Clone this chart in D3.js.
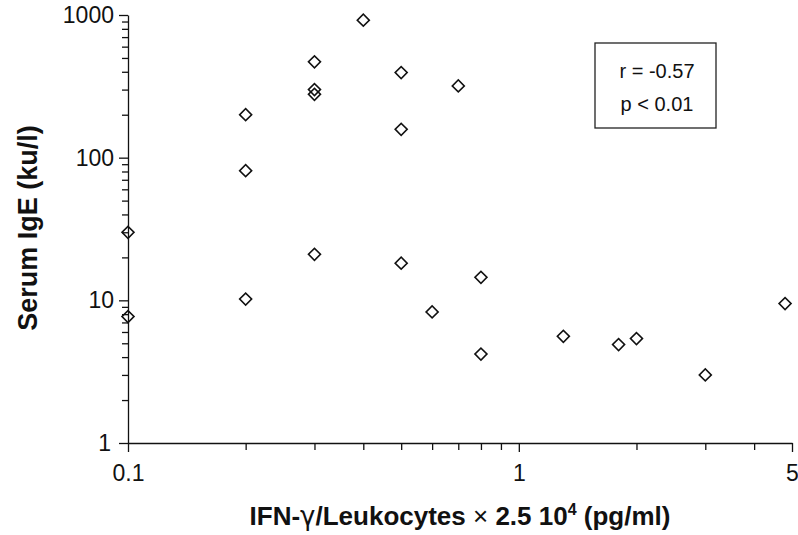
<!DOCTYPE html>
<html>
<head>
<meta charset="utf-8">
<script src="https://cdn.jsdelivr.net/npm/d3@7"></script>
<style>
  body { margin: 0; background: #fff; }
  svg { display: block; font-family: "Liberation Sans", Arial, sans-serif; }
</style>
</head>
<body>
<div id="chart"><svg></svg></div>
<script>
// IFN-gamma / leukocytes (x) vs serum IgE (y)
var ifnValues = [0.1, 0.1, 0.2, 0.2, 0.2, 0.3, 0.3, 0.3, 0.3, 0.4, 0.5, 0.5, 0.5,
                 0.6, 0.7, 0.8, 0.8, 1.3, 1.8, 2.0, 3.0, 4.8];
var igeValues = [30, 7.7, 10.2, 200, 81, 470, 300, 278, 21, 920, 395, 158, 18.2,
                 8.3, 318, 14.5, 4.2, 5.6, 4.9, 5.4, 3.0, 9.5];

var xMajorTicks = [0.1, 1, 5];
var xMinorTicks = [0.2, 0.3, 0.4, 0.5, 0.6, 0.7, 0.8, 0.9, 2, 3, 4];
var yMajorTicks = [1, 10, 100, 1000];
var yMinorTicks = [2, 3, 4, 5, 6, 7, 8, 9, 20, 30, 40, 50, 60, 70, 80, 90,
                   200, 300, 400, 500, 600, 700, 800, 900];

var statLines = ["r = -0.57", "p < 0.01"];

var width = 798, height = 535;
var svg = d3.select('#chart').select('svg')
    .attr('width', width)
    .attr('height', height);

var x = d3.scaleLog().domain([0.1, 5]).range([128, 792]);
var y = d3.scaleLog().domain([1, 1000]).range([443, 15]);

// y axis
var gy = svg.append('g').attr('transform', 'translate(128,0)');
gy.call(d3.axisLeft(y).tickValues(yMajorTicks).tickSize(9).tickSizeOuter(0)
    .tickPadding(5).tickFormat(d3.format('d')));
gy.append('g').call(d3.axisLeft(y).tickValues(yMinorTicks).tickSize(6)
    .tickFormat('')).select('.domain').remove();

// x axis
var gx = svg.append('g').attr('transform', 'translate(0,443)');
gx.call(d3.axisBottom(x).tickValues(xMajorTicks).tickSize(9).tickSizeOuter(0)
    .tickPadding(13).tickFormat(function (d) { return d === 0.1 ? '0.1' : d3.format('d')(d); }));
gx.append('g').call(d3.axisBottom(x).tickValues(xMinorTicks).tickSize(7)
    .tickFormat('')).select('.domain').remove();

svg.selectAll('.domain, .tick line').attr('stroke', '#111').attr('stroke-width', 1.3);
svg.selectAll('.tick text').attr('font-size', 23).attr('fill', '#111')
    .attr('font-family', '"Liberation Sans", Arial, sans-serif');
gy.selectAll('.tick text').filter(function (d) { return d === 1; }).attr('dx', -3);

// points
svg.append('g').selectAll('path').data(ifnValues).enter()
    .append('path')
    .attr('d', d3.symbol().type(d3.symbolSquare).size(72))
    .attr('transform', function (d, i) {
        return 'translate(' + x(d) + ',' + y(igeValues[i]) + ') rotate(45)';
    })
    .attr('fill', 'none')
    .attr('stroke', '#111')
    .attr('stroke-width', 1.6);

// stats box
svg.append('rect')
    .attr('x', 595).attr('y', 43).attr('width', 121).attr('height', 85)
    .attr('fill', 'none').attr('stroke', '#222').attr('stroke-width', 1.3);
svg.selectAll('text.stat').data(statLines).enter()
    .append('text')
    .attr('class', 'stat')
    .attr('x', 657)
    .attr('y', function (d, i) { return 78 + i * 33; })
    .attr('text-anchor', 'middle')
    .attr('font-size', 20)
    .attr('fill', '#111')
    .text(function (d) { return d; });

// axis titles
var xt = svg.append('text')
    .attr('x', 460).attr('y', 525)
    .attr('text-anchor', 'middle')
    .attr('font-size', 26).attr('font-weight', 'bold').attr('fill', '#111');
xt.append('tspan').text('IFN-');
xt.append('tspan').attr('font-weight', 'normal').attr('font-family', '"DejaVu Sans", sans-serif').text('γ');
xt.append('tspan').text('/Leukocytes ');
xt.append('tspan').attr('font-weight', 'normal').text('×');
xt.append('tspan').text(' 2.5 10');
xt.append('tspan').attr('font-size', 16).attr('dy', -10).text('4');
xt.append('tspan').attr('dy', 10).text(' (pg/ml)');

svg.append('text')
    .attr('transform', 'translate(37,228) rotate(-90)')
    .attr('text-anchor', 'middle')
    .attr('font-size', 27).attr('font-weight', 'bold').attr('fill', '#111')
    .text('Serum IgE (ku/l)');
</script>
</body>
</html>
